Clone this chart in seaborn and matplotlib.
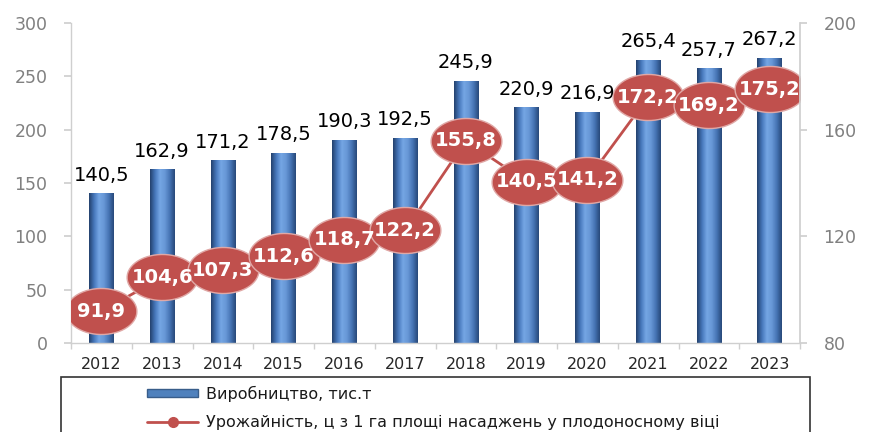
import numpy as np
import pandas as pd
import matplotlib
matplotlib.use("Agg")
import matplotlib.pyplot as plt
import seaborn as sns
from matplotlib.path import Path
from matplotlib.colors import LinearSegmentedColormap
from matplotlib.patches import Rectangle
from matplotlib.lines import Line2D

years = ["2012", "2013", "2014", "2015", "2016", "2017", "2018", "2019", "2020", "2021", "2022", "2023"]
production = [140.5, 162.9, 171.2, 178.5, 190.3, 192.5, 245.9, 220.9, 216.9, 265.4, 257.7, 267.2]
yield_c = [91.9, 104.6, 107.3, 112.6, 118.7, 122.2, 155.8, 140.5, 141.2, 172.2, 169.2, 175.2]
label_prod = "Виробництво, тис.т"
label_yield = "Урожайність, ц з 1 га площі насаджень у плодоносному віці"

sns.set_theme(style="white")
plt.rcParams["font.family"] = ["DejaVu Sans"]

W, H = 874, 432
fig = plt.figure(figsize=(W / 100, H / 100), dpi=100)
ax = fig.add_axes([71 / W, 1 - 343 / H, (800 - 71) / W, (343 - 23) / H])

df = pd.DataFrame({"year": years, "prod": production, "yield": yield_c})
sns.barplot(data=df, x="year", y="prod", ax=ax, color="#4F81BD", width=0.4,
            saturation=1, edgecolor="none")
ax.set_xlabel("")
ax.set_ylabel("")

# cylinder gradient on each bar
cmap = LinearSegmentedColormap.from_list(
    "cyl", ["#24426e", "#4677bb", "#75a6e4", "#6797d6", "#4674b4", "#28497a"])
grad = np.linspace(0, 1, 64).reshape(1, -1)
for p in list(ax.patches):
    x0, w, h = p.get_x(), p.get_width(), p.get_height()
    im = ax.imshow(grad, cmap=cmap, aspect="auto", extent=[x0, x0 + w, 0, h],
                   zorder=p.get_zorder() + 0.1, interpolation="bilinear")
    im.set_clip_path(p)
    ax.text(x0 + w / 2, h + 8, f"{h:.1f}".replace(".", ","), ha="center", va="bottom",
            fontsize=14, color="black", zorder=5)
ax.set_xlim(-0.5, len(years) - 0.5)
ax.set_ylim(0, 300)
ax.set_yticks([0, 50, 100, 150, 200, 250, 300])

for s in ["top", "right"]:
    ax.spines[s].set_visible(False)
for s in ["left", "bottom"]:
    ax.spines[s].set_color("#cfcfcf")
    ax.spines[s].set_linewidth(1)
ax.tick_params(axis="y", labelsize=12.5, labelcolor="#808080", color="#cfcfcf",
               length=5, direction="out", left=True, pad=12)
ax.set_xticks(np.arange(len(years) + 1) - 0.5, minor=True)
ax.tick_params(axis="x", which="major", length=0, labelsize=11.5, labelcolor="#262626", pad=10)
ax.tick_params(axis="x", which="minor", length=4, color="#cfcfcf", bottom=True)

# secondary axis
ax2 = ax.twinx()
theta = np.linspace(0, 2 * np.pi, 60)
ell = Path(np.column_stack([np.cos(theta), 0.65 * np.sin(theta)]), closed=False)
sns.lineplot(data=df, x="year", y="yield", ax=ax2, sort=False, color="#C0504D",
             linewidth=2, marker=ell, markersize=51, markerfacecolor="#C0504D",
             markeredgecolor="#e0a8a6", markeredgewidth=1)
ax2.set_ylim(80, 200)
ax2.set_yticks([80, 120, 160, 200])
ax2.set_ylabel("")
for s in ["top", "left", "bottom"]:
    ax2.spines[s].set_visible(False)
ax2.spines["right"].set_color("#cfcfcf")
ax2.tick_params(axis="y", labelsize=12.5, labelcolor="#808080", color="#cfcfcf",
                length=5, direction="out", right=True, pad=12)
ax2.grid(False)
ax.grid(False)
for xi, v in zip(ax2.lines[0].get_xdata(), yield_c):
    ax2.text(xi, v, f"{v:.1f}".replace(".", ","), ha="center", va="center",
             fontsize=14, fontweight="bold", color="white", zorder=6)

# legend box
fig.patches.append(Rectangle((61 / W, -0.05), (810 - 61) / W, (1 - 377 / H) + 0.05,
                             transform=fig.transFigure, fill=False,
                             edgecolor="#333333", linewidth=1.2))
h1 = Rectangle((0, 0), 1, 1, facecolor="#4F81BD", edgecolor="#385d8a")
h2 = Line2D([0], [0], color="#C0504D", linewidth=2, marker="o", markersize=7,
            markerfacecolor="#C0504D", markeredgecolor="#C0504D")
leg = fig.legend([h1, h2], [label_prod, label_yield], loc="upper left",
                 bbox_to_anchor=(139 / W, 1 - 378 / H), frameon=False,
                 fontsize=11.5, handlelength=3.2, handleheight=0.4,
                 labelspacing=0.8, handletextpad=0.5, borderpad=0)
for t in leg.get_texts():
    t.set_color("#1a1a1a")

fig.savefig("out.png", dpi=100, facecolor="white")
